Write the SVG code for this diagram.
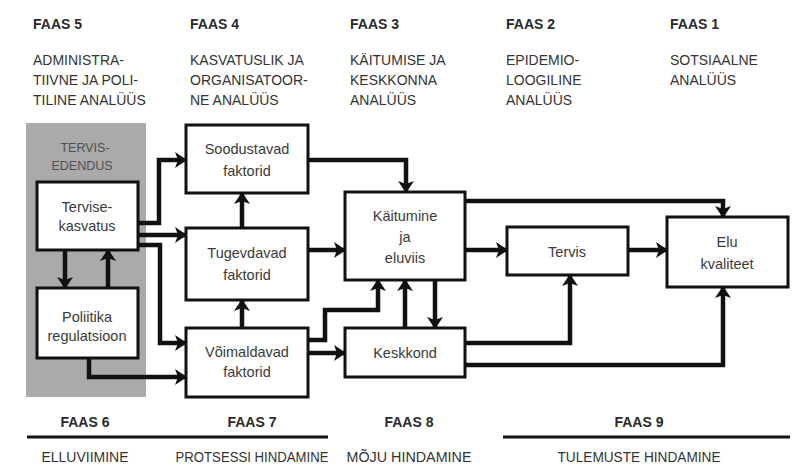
<svg xmlns="http://www.w3.org/2000/svg" width="805" height="467" viewBox="0 0 805 467">
<style>
.h{font-family:"Liberation Sans",Arial,sans-serif;font-weight:bold;font-size:14px;fill:#2a2a2a}
.t{font-family:"Liberation Sans",Arial,sans-serif;font-size:14px;fill:#333}
.n{font-family:"Liberation Sans",Arial,sans-serif;font-size:14.5px;fill:#3a3a3a;text-anchor:middle}
.g{font-family:"Liberation Sans",Arial,sans-serif;font-size:12.5px;fill:#505050;text-anchor:middle}
.c{text-anchor:middle}
.box{fill:#fff;stroke:#111;stroke-width:3}
.con{fill:none;stroke:#111;stroke-width:4.5;marker-end:url(#ah)}
.rule{stroke:#111;stroke-width:3}
</style>
<defs>
<marker id="ah" viewBox="0 0 12 16" refX="11" refY="8" markerWidth="12" markerHeight="16" markerUnits="userSpaceOnUse" orient="auto">
<path d="M0,0 L12,8 L0,16 L3,8 z" fill="#111"/>
</marker>
</defs>
<rect width="805" height="467" fill="#fff"/>

<g id="headers">
<text class="h" x="33" y="29">FAAS 5</text>
<text class="t" x="33" y="65">ADMINISTRA-</text>
<text class="t" x="33" y="85">TIIVNE JA POLI-</text>
<text class="t" x="33" y="105">TILINE ANALÜÜS</text>
<text class="h" x="190" y="29">FAAS 4</text>
<text class="t" x="190" y="65">KASVATUSLIK JA</text>
<text class="t" x="190" y="85">ORGANISATOOR-</text>
<text class="t" x="190" y="105">NE ANALÜÜS</text>
<text class="h" x="350" y="29">FAAS 3</text>
<text class="t" x="350" y="65">KÄITUMISE JA</text>
<text class="t" x="350" y="85">KESKKONNA</text>
<text class="t" x="350" y="105">ANALÜÜS</text>
<text class="h" x="506" y="29">FAAS 2</text>
<text class="t" x="506" y="65">EPIDEMIO-</text>
<text class="t" x="506" y="85">LOOGILINE</text>
<text class="t" x="506" y="105">ANALÜÜS</text>
<text class="h" x="670" y="29">FAAS 1</text>
<text class="t" x="670" y="65">SOTSIAALNE</text>
<text class="t" x="670" y="85">ANALÜÜS</text>
</g>

<g id="tervisedendus">
<rect x="26" y="123" width="120" height="274" fill="#aaaaaa"/>
<text class="g" x="85" y="152">TERVIS-</text>
<text class="g" x="82" y="170">EDENDUS</text>
</g>

<g id="connectors">
<path class="con" d="M308,160 H406 V192"/>
<path class="con" d="M308,250 H345"/>
<path class="con" d="M308,340 H325 V310 H378 V280"/>
<path class="con" d="M308,353 H345"/>
<path class="con" d="M405,328 V280"/>
<path class="con" d="M435,280 V328"/>
<path class="con" d="M465,250 H507"/>
<path class="con" d="M465,201 H723 V217"/>
<path class="con" d="M628,250 H667"/>
<path class="con" d="M465,343 H570 V275"/>
<path class="con" d="M465,365 H723 V287"/>
<path class="con" d="M138,223 H159 V160 H186"/>
<path class="con" d="M138,235 H186"/>
<path class="con" d="M138,245 H160 V343 H186"/>
<path class="con" d="M65,250 V288"/>
<path class="con" d="M108,288 V250"/>
<path class="con" d="M89,358 V377 H186"/>
<path class="con" d="M242,228 V193"/>
<path class="con" d="M242,328 V300"/>
</g>

<g id="tervisekasvatus">
<rect class="box" x="37" y="182" width="101" height="68"/>
<text class="n" x="87" y="212">Tervise-</text>
<text class="n" x="87" y="231">kasvatus</text>
</g>
<g id="poliitika">
<rect class="box" x="37" y="288" width="101" height="70"/>
<text class="n" x="87" y="322">Poliitika</text>
<text class="n" x="87" y="341">regulatsioon</text>
</g>
<g id="soodustavad">
<rect class="box" x="186" y="125" width="122" height="68"/>
<text class="n" x="247" y="154">Soodustavad</text>
<text class="n" x="247" y="176">faktorid</text>
</g>
<g id="tugevdavad">
<rect class="box" x="186" y="228" width="122" height="72"/>
<text class="n" x="247" y="258">Tugevdavad</text>
<text class="n" x="247" y="280">faktorid</text>
</g>
<g id="voimaldavad">
<rect class="box" x="186" y="328" width="122" height="69"/>
<text class="n" x="247" y="357">Võimaldavad</text>
<text class="n" x="247" y="377">faktorid</text>
</g>
<g id="kaitumine">
<rect class="box" x="345" y="192" width="120" height="88"/>
<text class="n" x="405" y="221">Käitumine</text>
<text class="n" x="405" y="242">ja</text>
<text class="n" x="405" y="263">eluviis</text>
</g>
<g id="keskkond">
<rect class="box" x="345" y="328" width="120" height="49"/>
<text class="n" x="405" y="358">Keskkond</text>
</g>
<g id="tervis">
<rect class="box" x="507" y="227" width="121" height="48"/>
<text class="n" x="567" y="257">Tervis</text>
</g>
<g id="elukvaliteet">
<rect class="box" x="667" y="217" width="121" height="70"/>
<text class="n" x="727" y="247">Elu</text>
<text class="n" x="727" y="269">kvaliteet</text>
</g>

<g id="footer">
<text class="h c" x="85" y="427">FAAS 6</text>
<text class="h c" x="252" y="427">FAAS 7</text>
<text class="h c" x="409" y="427">FAAS 8</text>
<text class="h c" x="639" y="427">FAAS 9</text>
<line class="rule" x1="27" y1="437" x2="328" y2="437"/>
<line class="rule" x1="503" y1="437" x2="790" y2="437"/>
<text class="t c" x="85" y="462">ELLUVIIMINE</text>
<text class="t c" x="252" y="462" textLength="153" lengthAdjust="spacingAndGlyphs">PROTSESSI HINDAMINE</text>
<text class="t c" x="409" y="462" textLength="125" lengthAdjust="spacingAndGlyphs">MÕJU HINDAMINE</text>
<text class="t c" x="639" y="462" textLength="163" lengthAdjust="spacingAndGlyphs">TULEMUSTE HINDAMINE</text>
</g>
</svg>
